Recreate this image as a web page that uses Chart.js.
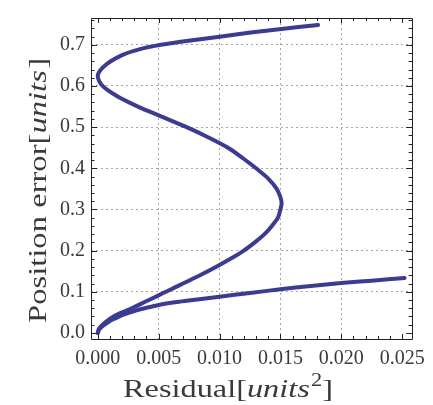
<!DOCTYPE html>
<html>
<head>
<meta charset="utf-8">
<script src="https://cdn.jsdelivr.net/npm/chart.js@4"></script>
<style>
html,body{margin:0;padding:0;background:#fff;}
canvas{display:block;}
</style>
</head>
<body>
<canvas id="c" width="433" height="405"></canvas>
<script>
// ---- data ----
// lower branch (residual grows, position error grows slowly)
const lowerResidual = [0, 0.00016, 0.00056, 0.0010, 0.0015, 0.0020, 0.0030, 0.0040, 0.0050, 0.0065, 0.0080, 0.0100, 0.0125, 0.0150, 0.0175, 0.0200, 0.0225, 0.0252];
const lowerPosition = [0, 0.010, 0.020, 0.029, 0.036, 0.043, 0.053, 0.061, 0.068, 0.075, 0.0805, 0.088, 0.097, 0.106, 0.114, 0.121, 0.127, 0.1335];
// S-shaped branch
const sPosition = [0, 0.010, 0.020, 0.030, 0.040, 0.050, 0.060, 0.070, 0.080, 0.090, 0.100, 0.110, 0.120, 0.140, 0.160, 0.180, 0.200, 0.220, 0.240, 0.260, 0.280, 0.300, 0.315, 0.330, 0.350, 0.375, 0.400, 0.425, 0.450, 0.475, 0.500, 0.525, 0.550, 0.575, 0.600, 0.625, 0.650, 0.675, 0.689, 0.700, 0.7125, 0.7198, 0.7293, 0.7380, 0.7480];
const sResidual = [0, 0.0001, 0.0004, 0.0008, 0.0013, 0.0020, 0.0028, 0.0035, 0.0042, 0.0049, 0.0056, 0.0063, 0.0070, 0.0084, 0.0097, 0.0109, 0.0120, 0.0129, 0.0137, 0.0143, 0.0148, 0.0150, 0.0151, 0.0150, 0.0147, 0.0140, 0.0130, 0.0119, 0.0107, 0.0091, 0.0073, 0.0053, 0.0033, 0.0016, 0.0004, 0.0000, 0.0006, 0.0020, 0.0034, 0.0052, 0.0081, 0.0100, 0.0124, 0.0149, 0.0181];
// tick labels
const xTickValues = [0, 0.005, 0.010, 0.015, 0.020, 0.025];
const yTickValues = [0, 0.1, 0.2, 0.3, 0.4, 0.5, 0.6, 0.7];
const xTitleParts = [["Residual[", "n"], ["units", "i"], ["2", "s"], ["]", "n"]];
const yTitleParts = [["Position error[", "n"], ["units", "i"], ["]", "n"]];

const curveColor = 'rgb(58,58,152)';
const textColor = '#3a3a3a';
const serif = '"Liberation Serif", "DejaVu Serif", serif';

function toPts(xs, ys){ return xs.map((x,i)=>({x:x, y:ys[i]})); }

const framePlugin = {
  id: 'frame',
  afterDraw(chart){
    const ctx = chart.ctx, a = chart.chartArea;
    const xs = chart.scales.x, ys = chart.scales.y;
    ctx.save();
    ctx.strokeStyle = '#222';
    ctx.lineWidth = 1;
    ctx.beginPath();
    ctx.rect(Math.round(a.left)+0.5, Math.round(a.top)+0.5, Math.round(a.right-a.left), Math.round(a.bottom-a.top));
    ctx.stroke();
    // inward ticks on all sides
    ctx.beginPath();
    for (let k=0;k<=25;k++){
      const v = k*0.001;
      const px = Math.round(xs.getPixelForValue(v))+0.5;
      const len = (k%5===0)?5:3;
      ctx.moveTo(px, a.bottom); ctx.lineTo(px, a.bottom-len);
      ctx.moveTo(px, a.top); ctx.lineTo(px, a.top+len);
    }
    for (let k=0;k<=38;k++){
      const v = k*0.02;
      if (v > ys.max) break;
      const py = Math.round(ys.getPixelForValue(v))+0.5;
      const len = (k%5===0)?6:3.5;
      ctx.moveTo(a.left, py); ctx.lineTo(a.left+len, py);
      ctx.moveTo(a.right, py); ctx.lineTo(a.right-len, py);
    }
    ctx.stroke();
    ctx.restore();

    // axis titles (mixed roman / italic)
    function fontFor(kind, size){
      if (kind==='i') return 'italic ' + size + 'px ' + serif;
      if (kind==='s') return Math.round(size*0.7) + 'px ' + serif;
      return size + 'px ' + serif;
    }
    function drawParts(parts, size, targetW){
      let total = 0;
      const widths = parts.map(p=>{ ctx.font = fontFor(p[1], size); const w = ctx.measureText(p[0]).width + (p[1]==='i'?1:0); total += w; return w; });
      const sx = targetW/total;
      ctx.scale(sx, 1);
      let x = 0;
      parts.forEach((p,i)=>{
        ctx.font = fontFor(p[1], size);
        const dy = p[1]==='s' ? -size*0.42 : 0;
        ctx.fillText(p[0], x, dy);
        x += widths[i];
      });
    }
    ctx.save();
    ctx.fillStyle = textColor;
    ctx.textBaseline = 'alphabetic';
    ctx.textAlign = 'left';
    ctx.translate(123, 397);
    drawParts(xTitleParts, 26, 210);
    ctx.restore();

    ctx.save();
    ctx.fillStyle = textColor;
    ctx.textBaseline = 'alphabetic';
    ctx.textAlign = 'left';
    ctx.translate(46, 323);
    ctx.rotate(-Math.PI/2);
    drawParts(yTitleParts, 26, 265);
    ctx.restore();
  }
};

const gridColor = (ctx)=>{
  const v = ctx.tick ? ctx.tick.value : null;
  if (v === null || Math.abs(v) < 1e-9 || Math.abs(v-0.025) < 1e-9) return 'rgba(0,0,0,0)';
  return 'rgba(150,150,150,0.85)';
};

new Chart(document.getElementById('c'), {
  type: 'line',
  data: {
    datasets: [
      { data: toPts(lowerResidual, lowerPosition), borderColor: curveColor, borderWidth: 4, pointRadius: 0, tension: 0.3, fill: false, borderCapStyle: 'round', borderJoinStyle: 'round' },
      { data: toPts(sResidual, sPosition), borderColor: curveColor, borderWidth: 4, pointRadius: 0, tension: 0.3, fill: false, borderCapStyle: 'round', borderJoinStyle: 'round' }
    ]
  },
  options: {
    responsive: false,
    animation: false,
    parsing: false,
    layout: { padding: { left: 0, right: 11, top: 8, bottom: 0 } },
    plugins: { legend: { display: false }, tooltip: { enabled: false } },
    scales: {
      x: {
        type: 'linear',
        min: -0.000554, max: 0.02582,
        afterBuildTicks: (s)=>{ s.ticks = xTickValues.map(v=>({value:v})); },
        afterFit: (s)=>{ s.height = 66; },
        border: { display: false, dash: [2,3] },
        grid: { drawTicks: false, color: gridColor, lineWidth: 1 },
        ticks: { color: textColor, padding: 8, maxRotation: 0, autoSkip: false, font: { family: serif, size: 20 }, callback: (v)=>Number(v).toFixed(3) }
      },
      y: {
        type: 'linear',
        min: -0.0148, max: 0.7652,
        afterBuildTicks: (s)=>{ s.ticks = yTickValues.map(v=>({value:v})); },
        afterFit: (s)=>{ s.width = 91; },
        border: { display: false, dash: [2,3] },
        grid: { drawTicks: false, color: gridColor, lineWidth: 1 },
        ticks: { color: textColor, padding: 6, autoSkip: false, font: { family: serif, size: 20 }, callback: (v)=>Number(v).toFixed(1) }
      }
    }
  },
  plugins: [framePlugin]
});
</script>
</body>
</html>
